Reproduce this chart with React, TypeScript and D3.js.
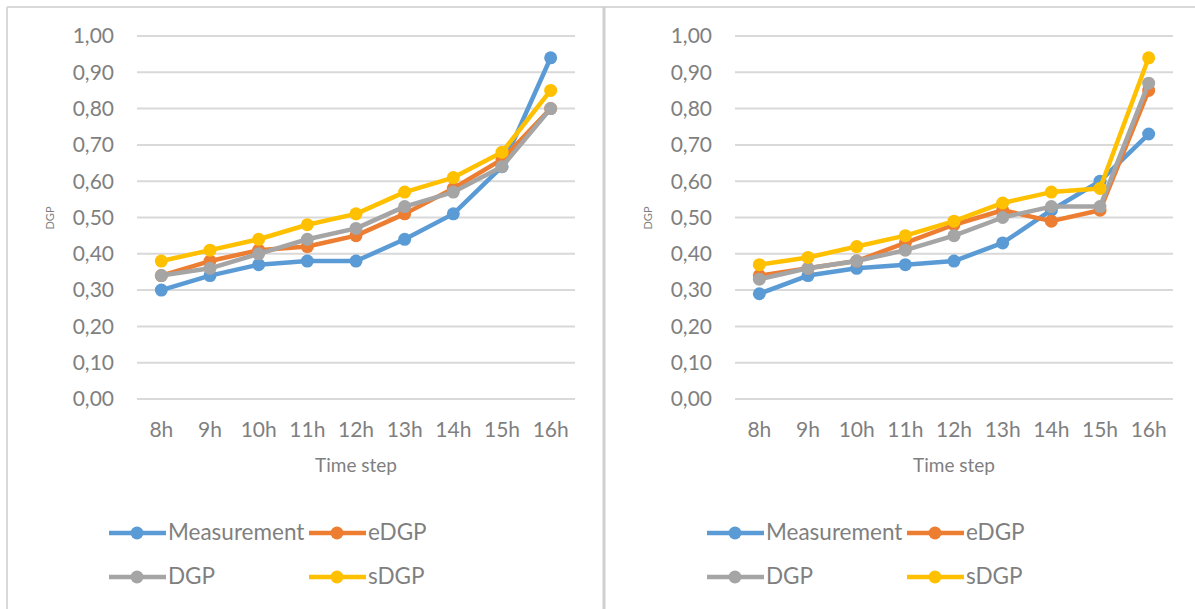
import React from 'react';
import * as d3 from 'd3';

const categories = ['8h', '9h', '10h', '11h', '12h', '13h', '14h', '15h', '16h'];
const yTicks = [0, 0.1, 0.2, 0.3, 0.4, 0.5, 0.6, 0.7, 0.8, 0.9, 1.0];
const seriesNames = ['Measurement', 'eDGP', 'DGP', 'sDGP'];
const seriesColors = ['#5B9BD5', '#ED7D31', '#A5A5A5', '#FFC000'];

const leftMeasurement = [0.30, 0.34, 0.37, 0.38, 0.38, 0.44, 0.51, 0.64, 0.94];
const leftEDGP = [0.34, 0.38, 0.41, 0.42, 0.45, 0.51, 0.58, 0.66, 0.80];
const leftDGP = [0.34, 0.36, 0.40, 0.44, 0.47, 0.53, 0.57, 0.64, 0.80];
const leftSDGP = [0.38, 0.41, 0.44, 0.48, 0.51, 0.57, 0.61, 0.68, 0.85];

const rightMeasurement = [0.29, 0.34, 0.36, 0.37, 0.38, 0.43, 0.52, 0.60, 0.73];
const rightEDGP = [0.34, 0.36, 0.38, 0.43, 0.48, 0.52, 0.49, 0.52, 0.85];
const rightDGP = [0.33, 0.36, 0.38, 0.41, 0.45, 0.50, 0.53, 0.53, 0.87];
const rightSDGP = [0.37, 0.39, 0.42, 0.45, 0.49, 0.54, 0.57, 0.58, 0.94];

const FONT = 'Lato, "Open Sans", sans-serif';
const TEXT = '#7f7f7f';

function Panel({ ox, data }: { ox: number; data: number[][] }) {
  const x = d3.scalePoint<string>().domain(categories).range([ox + 137, ox + 575]).padding(0.5);
  const y = d3.scaleLinear().domain([0, 1]).range([399, 36]);
  const line = d3
    .line<number>()
    .x((_, i) => x(categories[i]) as number)
    .y((d) => y(d));
  const fmt = (v: number) => v.toFixed(2).replace('.', ',');
  const legend = [
    { lx: ox + 109, ly: 533 },
    { lx: ox + 309, ly: 533 },
    { lx: ox + 109, ly: 577 },
    { lx: ox + 309, ly: 577 },
  ];
  return (
    <g>
      {yTicks.map((t) => (
        <g key={t}>
          <line x1={ox + 137} x2={ox + 575} y1={y(t)} y2={y(t)} stroke="#d9d9d9" strokeWidth={2} />
          <text x={ox + 114} y={y(t) + 2} textAnchor="end" dominantBaseline="middle" fontFamily={FONT} fontSize={21} fill={TEXT}>
            {fmt(t)}
          </text>
        </g>
      ))}
      {categories.map((c) => (
        <text key={c} x={x(c)} y={432} textAnchor="middle" dominantBaseline="middle" fontFamily={FONT} fontSize={21} fill={TEXT}>
          {c}
        </text>
      ))}
      <text x={ox + 356} y={467} textAnchor="middle" dominantBaseline="middle" fontFamily={FONT} fontSize={19} fill={TEXT}>
        Time step
      </text>
      <text
        transform={`translate(${ox + 51},218) rotate(-90)`}
        textAnchor="middle"
        dominantBaseline="middle"
        fontFamily={FONT}
        fontSize={11}
        fill={TEXT}
      >
        DGP
      </text>
      {data.map((s, si) => (
        <g key={si}>
          <path d={line(s) || ''} fill="none" stroke={seriesColors[si]} strokeWidth={4.5} strokeLinejoin="round" />
          {s.map((v, i) => (
            <circle key={i} cx={x(categories[i])} cy={y(v)} r={6.5} fill={seriesColors[si]} />
          ))}
        </g>
      ))}
      {legend.map((l, i) => (
        <g key={i}>
          <line x1={l.lx} x2={l.lx + 57} y1={l.ly} y2={l.ly} stroke={seriesColors[i]} strokeWidth={4.5} />
          <circle cx={l.lx + 28} cy={l.ly} r={6.5} fill={seriesColors[i]} />
          <text x={l.lx + 59} y={l.ly + 1} dominantBaseline="middle" fontFamily={FONT} fontSize={22.5} fill={TEXT}>
            {seriesNames[i]}
          </text>
        </g>
      ))}
    </g>
  );
}

export default function App() {
  return (
    <svg width={1195} height={609} style={{ position: 'absolute', left: 0, top: 0, background: '#fff' }}>
      <rect x={0} y={0} width={1195} height={609} fill="#fff" />
      <line x1={7} x2={1195} y1={7} y2={7} stroke="#d9d9d9" strokeWidth={2} />
      <line x1={7} x2={7} y1={7} y2={609} stroke="#d9d9d9" strokeWidth={2} />
      <line x1={604} x2={604} y1={7} y2={609} stroke="#d0d0d0" strokeWidth={3} />
      <Panel ox={0} data={[leftMeasurement, leftEDGP, leftDGP, leftSDGP]} />
      <Panel ox={598} data={[rightMeasurement, rightEDGP, rightDGP, rightSDGP]} />
    </svg>
  );
}
